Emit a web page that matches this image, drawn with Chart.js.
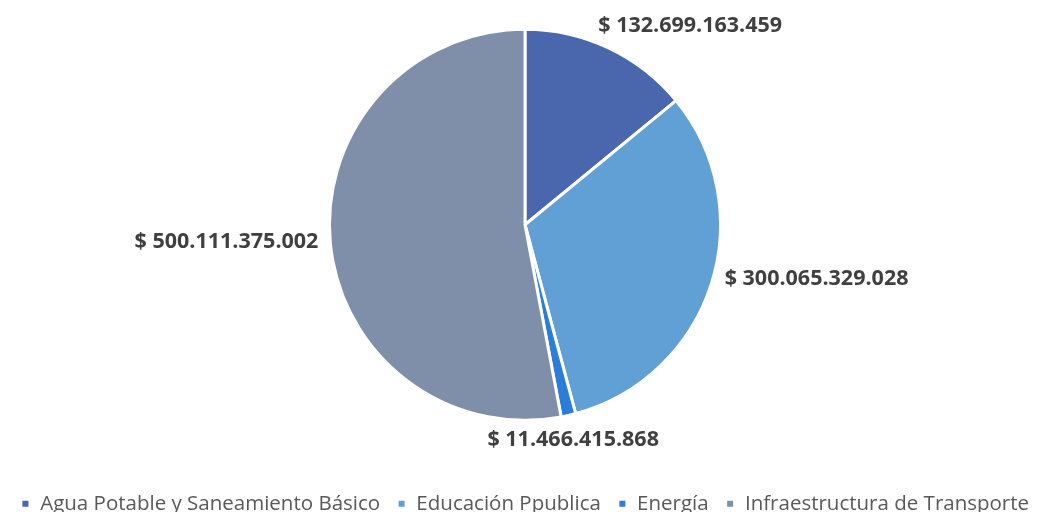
<!DOCTYPE html>
<html>
<head>
<meta charset="utf-8">
<script src="https://cdn.jsdelivr.net/npm/chart.js@4"></script>
<style>
  html, body { margin: 0; padding: 0; background: #fff; overflow: hidden; }
  #marco { position: relative; width: 1050px; height: 512px; overflow: hidden; }
  #wrap { position: absolute; left: 0; top: -27px; width: 1050px; height: 551px; }
</style>
</head>
<body>
<div id="marco"><div id="wrap"><canvas id="inversionChart"></canvas></div></div>
<script>
var sectores = ['Agua Potable y Saneamiento Básico', 'Educación Ppublica', 'Energía', 'Infraestructura de Transporte'];
var montos = [132699163459, 300065329028, 11466415868, 500111375002];
var colores = ['#4A66AD', '#61A0D4', '#2B7DD8', '#7F8EA9'];

function formatoPesos(v) {
    return '$ ' + String(v).replace(/\B(?=(\d{3})+(?!\d))/g, '.');
}

// etiquetas de valor fuera de cada porción
var etiquetasFuera = {
    id: 'etiquetasFuera',
    afterDatasetsDraw: function(chart, args, opts) {
        var ctx = chart.ctx;
        var meta = chart.getDatasetMeta(0);
        ctx.save();
        ctx.font = 'bold 21.5px "Open Sans"';
        ctx.fillStyle = '#404040';
        ctx.textAlign = 'center';
        ctx.textBaseline = 'middle';
        meta.data.forEach(function(arc, i) {
            var p = arc.getProps(['x', 'y', 'startAngle', 'endAngle', 'outerRadius'], true);
            var a = (p.startAngle + p.endAngle) / 2;
            var s = Math.cos(a), c = Math.sin(a);
            var texto = formatoPesos(montos[i]);
            var w = ctx.measureText(texto).width;
            var h = 22;
            var m = Math.max(Math.abs(s), Math.abs(c));
            var r = p.outerRadius + 10;
            var ajuste = opts.ajustes[i] || [0, 0];
            var cx = p.x + r * s + (w / 2) * (s / m) + ajuste[0];
            var cy = p.y + r * c + (h / 2) * (c / m) + ajuste[1];
            ctx.fillText(texto, cx, cy);
        });
        ctx.restore();
    }
};

var ctx = document.getElementById('inversionChart').getContext('2d');
var inversionChart = new Chart(ctx, {
    type: 'pie',
    data: {
        labels: sectores,
        datasets: [{
            data: montos,
            backgroundColor: colores,
            borderColor: '#ffffff',
            borderWidth: 3
        }]
    },
    options: {
        responsive: true,
        maintainAspectRatio: false,
        animation: false,
        radius: 195.5,
        layout: { padding: 0 },
        plugins: {
            tooltip: { enabled: false },
            etiquetasFuera: {
                ajustes: [[34, -2], [4, -12], [-17, 4], [-2, -3]]
            },
            legend: {
                position: 'bottom',
                labels: {
                    font: { family: '"Open Sans"', size: 20.5 },
                    color: '#595959',
                    boxWidth: 9,
                    boxHeight: 9,
                    padding: 17
                }
            }
        }
    },
    plugins: [etiquetasFuera]
});
</script>
</body>
</html>
